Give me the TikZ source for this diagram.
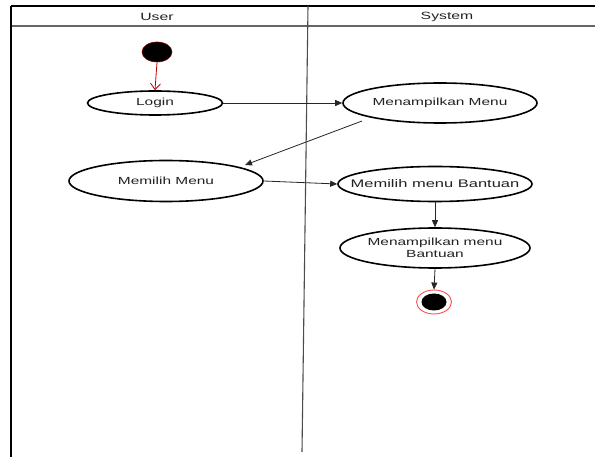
\documentclass[tikz,border=0pt]{standalone}
\usepackage{fontspec}
\setmainfont{Liberation Sans}
\newfontfamily\lab{Liberation Sans}[FakeStretch=1.5]
\usetikzlibrary{shapes.geometric,arrows.meta}
\definecolor{txt}{HTML}{222222}
\tikzset{
  act/.style={ellipse, draw=black, line width=1.6pt, fill=white, inner xsep=-40pt, inner ysep=-6pt,
    font=\lab\fontsize{10.3}{11.5}\selectfont, text=txt, align=center},
  flow/.style={draw=black!85, line width=0.8pt, -{Triangle[length=7pt,width=6pt]}},
  startflow/.style={draw=red!75!black, line width=0.8pt, -{Straight Barb[length=6pt,width=10pt]}},
  lanehead/.style={font=\lab\fontsize{10.5}{12}\selectfont, text=txt},
}
\begin{document}
\begin{tikzpicture}[x=1pt,y=-1pt]
\useasboundingbox (0,0) rectangle (595,457);
\fill[white] (0,0) rectangle (595,457);
% frame
\draw[black!60, line width=1.2pt] (11,26) -- (595,26);
\draw[black, line width=1.3pt] (11,6) -- (595,6);
\draw[black, line width=1.3pt] (11,6) -- (11,457);
\draw[black!70, line width=1.1pt] (308,6) -- (302,452);
% lane titles
\node[lanehead] (luser) at (157,17) {User};
\node[lanehead] (lsys) at (447,17) {System};
% nodes
\node[ellipse, fill=black, draw=red!50!black, line width=0.6pt, minimum width=30pt, minimum height=20pt, inner sep=0pt] (start) at (157,52) {};
\node[act, minimum width=135pt, minimum height=24pt] (login) at (155,103) {Login};
\node[act, minimum width=194pt, minimum height=40pt] (mm) at (440,103) {Menampilkan Menu};
\node[act, minimum width=194pt, minimum height=41pt] (memilih) at (166,181) {Memilih Menu};
\node[act, minimum width=194pt, minimum height=35pt, font=\lab\fontsize{11}{12.5}\selectfont] (mb) at (435,184) {Memilih menu Bantuan};
\node[act, minimum width=190pt, minimum height=40pt] (mmb) at (435,248) {Menampilkan menu\\Bantuan};
\node[ellipse, draw=red!70, fill=white, line width=0.9pt, minimum width=35pt, minimum height=24pt, inner sep=0pt] (endo) at (434,302) {};
\node[ellipse, fill=black, minimum width=25pt, minimum height=17pt, inner sep=0pt] (endi) at (434,302) {};
% connectors
\coordinate (mmout) at (362,121);
\coordinate (memin) at (245,165);
\draw[startflow] (start.south) -- (login.north);
\draw[flow] (login.east) -- (mm.west);
\draw[flow] (mmout) -- (memin);
\draw[flow] (memilih.east) -- (mb.west);
\draw[flow] (mb.south) -- (mmb.north);
\draw[flow] (mmb.south) -- (endo.north);
\end{tikzpicture}
\end{document}
